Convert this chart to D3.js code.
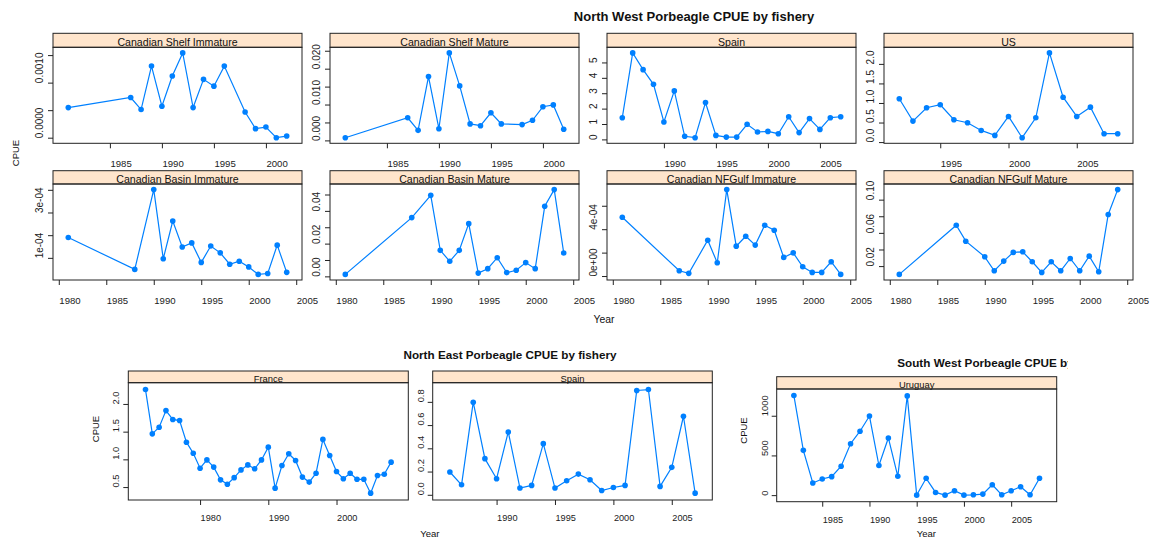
<!DOCTYPE html>
<html><head><meta charset="utf-8">
<script src="https://cdn.jsdelivr.net/npm/d3@7"></script>
<style>html,body{margin:0;padding:0;background:#fff;} svg{display:block;font-family:"Liberation Sans",Arial,Helvetica,sans-serif;}</style>
</head><body><svg id="chart" width="1150" height="538"></svg>
<script>
// ---------------- DATA ----------------
// North West – Canadian Shelf
const shelfYears = [1981,1987,1988,1989,1990,1991,1992,1993,1994,1995,1996,1998,1999,2000,2001,2002];
const shelfImmature = [0.000547,0.00073,0.000511,0.00130,0.000571,0.00112,0.00154,0.000547,0.00106,0.000936,0.00130,0.000467,0.000164,0.000193,0.0,0.00003];
const shelfMature = [0.00075,0.0063,0.0028,0.0178,0.00325,0.0244,0.0152,0.0046,0.0041,0.0077,0.0046,0.0044,0.0056,0.0094,0.0099,0.0031];
// North West – Spain
const nwSpainYears = [1986,1987,1988,1989,1990,1991,1992,1993,1994,1995,1996,1997,1998,1999,2000,2001,2002,2003,2004,2005,2006,2007];
const nwSpainCPUE = [1.41,5.62,4.53,3.58,1.13,3.15,0.20,0.11,2.39,0.26,0.15,0.15,0.98,0.48,0.52,0.37,1.47,0.44,1.35,0.65,1.41,1.47];
// North West – US
const usYears = [1992,1993,1994,1995,1996,1997,1998,1999,2000,2001,2002,2003,2004,2005,2006,2007,2008];
const usCPUE = [1.107,0.536,0.878,0.954,0.571,0.495,0.298,0.171,0.656,0.112,0.622,2.281,1.148,0.656,0.893,0.214,0.214];
// North West – Canadian Basin
const basinYears = [1981,1988,1990,1991,1992,1993,1994,1995,1996,1997,1998,1999,2000,2001,2002,2003,2004];
const basinImmature = [1.90e-4,0.49e-4,4.01e-4,0.96e-4,2.62e-4,1.48e-4,1.66e-4,0.80e-4,1.52e-4,1.22e-4,0.72e-4,0.85e-4,0.60e-4,0.27e-4,0.31e-4,1.56e-4,0.36e-4];
const basinMature = [0.0012,0.0359,0.0495,0.0159,0.0092,0.0159,0.0322,0.0020,0.0047,0.0114,0.0023,0.0037,0.0084,0.0047,0.0428,0.0530,0.0143];
// North West – Canadian NF Gulf
const gulfYears = [1981,1987,1988,1990,1991,1992,1993,1994,1995,1996,1997,1998,1999,2000,2001,2002,2003,2004];
const gulfImmature = [5.02e-4,0.45e-4,0.23e-4,3.06e-4,1.13e-4,7.38e-4,2.55e-4,3.40e-4,2.64e-4,4.34e-4,3.91e-4,1.59e-4,1.98e-4,0.79e-4,0.31e-4,0.31e-4,1.22e-4,0.14e-4];
const gulfMature = [0.0100,0.0692,0.0500,0.0312,0.0144,0.0260,0.0365,0.0372,0.0252,0.0124,0.0252,0.0144,0.0292,0.0144,0.0320,0.0132,0.0821,0.1121];
// North East – France
const franceYears = [1972,1973,1974,1975,1976,1977,1978,1979,1980,1981,1982,1983,1984,1985,1986,1987,1988,1989,1990,1991,1992,1993,1994,1995,1996,1997,1998,1999,2000,2001,2002,2003,2004,2005,2006,2007,2008];
const franceCPUE = [2.26,1.46,1.58,1.88,1.72,1.70,1.31,1.11,0.84,0.99,0.86,0.63,0.55,0.67,0.81,0.90,0.83,0.99,1.22,0.48,0.89,1.10,0.98,0.68,0.59,0.75,1.36,1.07,0.78,0.65,0.75,0.64,0.64,0.39,0.71,0.73,0.95];
// North East – Spain
const neSpainYears = [1986,1987,1988,1989,1990,1991,1992,1993,1994,1995,1996,1997,1998,1999,2000,2001,2002,2003,2004,2005,2006,2007];
const neSpainCPUE = [0.196,0.086,0.797,0.311,0.138,0.541,0.058,0.081,0.440,0.058,0.121,0.178,0.129,0.037,0.063,0.081,0.898,0.906,0.072,0.236,0.676,0.014];
// South West – Uruguay
const uruguayYears = [1982,1983,1984,1985,1986,1987,1988,1989,1990,1991,1992,1993,1994,1995,1996,1997,1998,1999,2000,2001,2002,2003,2004,2005,2006,2007,2008];
const uruguayCPUE = [1254,564,153,203,233,364,648,805,996,373,720,237,1250,0,212,34,0,55,0,4,13,131,4,55,106,4,212];

// Tick values and labels
const xTicks8590 = [1985,1990,1995,2000];
const xTicks9005 = [1990,1995,2000,2005];
const xTicks9505 = [1995,2000,2005];
const xTicks8005 = [1980,1985,1990,1995,2000,2005];
const xTicksDecade = [1980,1990,2000];
const xTicks8505 = [1985,1990,1995,2000,2005];

const yTicksShelfImm = [0,0.0005,0.001,0.0015], yLabShelfImm = ["0.0000","","0.0010",""];
const yTicksShelfMat = [0,0.005,0.01,0.015,0.02,0.025], yLabShelfMat = ["0.000","","0.010","","0.020",""];
const yTicksNWSpain = [0,1,2,3,4,5], yLabNWSpain = ["0","1","2","3","4","5"];
const yTicksUS = [0,0.5,1,1.5,2], yLabUS = ["0.0","0.5","1.0","1.5","2.0"];
const yTicksBasinImm = [1e-4,2e-4,3e-4,4e-4], yLabBasinImm = ["1e-04","","3e-04",""];
const yTicksBasinMat = [0,0.01,0.02,0.03,0.04,0.05], yLabBasinMat = ["0.00","","0.02","","0.04",""];
const yTicksGulfImm = [0,2e-4,4e-4,6e-4], yLabGulfImm = ["0e+00","","4e-04",""];
const yTicksGulfMat = [0.02,0.04,0.06,0.08,0.10], yLabGulfMat = ["0.02","","0.06","","0.10"];
const yTicksFrance = [0.5,1,1.5,2], yLabFrance = ["0.5","1.0","1.5","2.0"];
const yTicksNESpain = [0,0.2,0.4,0.6,0.8], yLabNESpain = ["0.0","0.2","0.4","0.6","0.8"];
const yTicksUruguay = [0,500,1000], yLabUruguay = ["0","500","1000"];

// ---------------- DRAWING ----------------
const svg = d3.select("#chart");
const LINE = "#0080ff", STRIP = "#ffe5cc", INK = "#222";

const defs = svg.append("defs");
defs.append("clipPath").attr("id","swclip").append("rect").attr("x",0).attr("y",0).attr("width",1068).attr("height",538);

function panel(p) {
  const g = svg.append("g");
  const xe = d3.extent(p.years), ye = d3.extent(p.values);
  const xr = xe[1]-xe[0], yr = ye[1]-ye[0];
  const x = d3.scaleLinear().domain([xe[0]-0.07*xr, xe[1]+0.07*xr]).range([p.left, p.right]);
  const y = d3.scaleLinear().domain([ye[0]-0.066*yr, ye[1]+0.066*yr]).range([p.bottom, p.stripBottom]);

  g.append("rect").attr("x",p.left).attr("y",p.stripTop).attr("width",p.right-p.left)
    .attr("height",p.stripBottom-p.stripTop).attr("fill",STRIP).attr("stroke",INK).attr("stroke-width",1);
  g.append("text").attr("x",(p.left+p.right)/2).attr("y",p.stripBottom-1.2).attr("text-anchor","middle")
    .attr("font-size",p.stripFont).attr("fill","#111").text(p.name);
  g.append("rect").attr("x",p.left).attr("y",p.stripBottom).attr("width",p.right-p.left)
    .attr("height",p.bottom-p.stripBottom).attr("fill","none").attr("stroke",INK).attr("stroke-width",1);

  const xa = g.append("g").attr("transform",`translate(0,${p.bottom})`)
    .call(d3.axisBottom(x).tickValues(p.xTicks).tickFormat(d3.format("d")).tickSize(5).tickSizeOuter(0));
  xa.attr("font-family",null).attr("font-size",p.tickFont);
  xa.select(".domain").remove();
  xa.selectAll("line").attr("stroke",INK);
  xa.selectAll("text").attr("y",p.xLabOff).attr("dy",null).attr("text-anchor","start").attr("fill",INK);

  const ya = g.append("g").attr("transform",`translate(${p.left},0)`)
    .call(d3.axisLeft(y).tickValues(p.yTicks).tickFormat(d => p.yLabels[p.yTicks.indexOf(d)]).tickSize(5).tickSizeOuter(0));
  ya.attr("font-family",null).attr("font-size",p.yTickFont);
  ya.select(".domain").remove();
  ya.selectAll("line").attr("stroke",INK);
  ya.selectAll("text").attr("x",0).attr("dy",null).attr("text-anchor","start").attr("fill",INK)
    .attr("transform",`translate(${-p.yLabOff},0) rotate(-90)`);

  const pts = p.years.map((yr,i) => [yr, p.values[i]]);
  g.append("path").datum(pts).attr("fill","none").attr("stroke",LINE).attr("stroke-width",1.2)
    .attr("d", d3.line().x(d => x(d[0])).y(d => y(d[1])));
  g.selectAll("circle.pt").data(pts).join("circle").attr("class","pt")
    .attr("cx",d => x(d[0])).attr("cy",d => y(d[1])).attr("r",2.8).attr("fill",LINE);
}

const topCols = [53, 330, 607, 884], topW = 249;
const topRows = [{stripTop:33.3, stripBottom:47.3, bottom:143.3},{stripTop:170.7, stripBottom:184, bottom:280}];
const topPanels = [
  {name:"Canadian Shelf Immature", years:shelfYears, values:shelfImmature, xTicks:xTicks8590, yTicks:yTicksShelfImm, yLabels:yLabShelfImm},
  {name:"Canadian Shelf Mature", years:shelfYears, values:shelfMature, xTicks:xTicks8590, yTicks:yTicksShelfMat, yLabels:yLabShelfMat},
  {name:"Spain", years:nwSpainYears, values:nwSpainCPUE, xTicks:xTicks9005, yTicks:yTicksNWSpain, yLabels:yLabNWSpain},
  {name:"US", years:usYears, values:usCPUE, xTicks:xTicks9505, yTicks:yTicksUS, yLabels:yLabUS},
  {name:"Canadian Basin Immature", years:basinYears, values:basinImmature, xTicks:xTicks8005, yTicks:yTicksBasinImm, yLabels:yLabBasinImm},
  {name:"Canadian Basin Mature", years:basinYears, values:basinMature, xTicks:xTicks8005, yTicks:yTicksBasinMat, yLabels:yLabBasinMat},
  {name:"Canadian NFGulf Immature", years:gulfYears, values:gulfImmature, xTicks:xTicks8005, yTicks:yTicksGulfImm, yLabels:yLabGulfImm},
  {name:"Canadian NFGulf Mature", years:gulfYears, values:gulfMature, xTicks:xTicks8005, yTicks:yTicksGulfMat, yLabels:yLabGulfMat}
];
topPanels.forEach((p,i) => {
  const r = topRows[Math.floor(i/4)], c = topCols[i%4];
  panel(Object.assign({}, p, r, {left:c, right:c+topW, stripFont:10.6, tickFont:9.6, yTickFont:10, xLabOff:24, yLabOff:10}));
});

const botCommon = {stripFont:9.4, tickFont:9.2, yTickFont:9.4, xLabOff:21, yLabOff:9};
panel(Object.assign({name:"France", years:franceYears, values:franceCPUE, xTicks:xTicksDecade, yTicks:yTicksFrance, yLabels:yLabFrance,
  left:128.3, right:408.3, stripTop:371, stripBottom:382.7, bottom:500}, botCommon));
panel(Object.assign({name:"Spain", years:neSpainYears, values:neSpainCPUE, xTicks:xTicks9005, yTicks:yTicksNESpain, yLabels:yLabNESpain,
  left:432.7, right:712.3, stripTop:371, stripBottom:382.7, bottom:500}, botCommon));
panel(Object.assign({name:"Uruguay", years:uruguayYears, values:uruguayCPUE, xTicks:xTicks8505, yTicks:yTicksUruguay, yLabels:yLabUruguay,
  left:776.7, right:1056.7, stripTop:376.7, stripBottom:389, bottom:501.7}, botCommon));

// Titles and axis labels
svg.append("text").attr("x",694).attr("y",21).attr("text-anchor","middle").attr("font-weight","bold")
  .attr("font-size",13).attr("fill","#111").text("North West Porbeagle CPUE by fishery");
svg.append("text").attr("x",510).attr("y",359).attr("text-anchor","middle").attr("font-weight","bold")
  .attr("font-size",11.7).attr("fill","#111").text("North East Porbeagle CPUE by fishery");
svg.append("text").attr("x",897.3).attr("y",366.5).attr("text-anchor","start").attr("font-weight","bold")
  .attr("font-size",11.7).attr("fill","#111").attr("clip-path","url(#swclip)").text("South West Porbeagle CPUE by fishery");

function vlabel(x, y, size, txt) {
  svg.append("text").attr("transform",`translate(${x},${y}) rotate(-90)`).attr("text-anchor","middle")
    .attr("font-size",size).attr("fill","#111").text(txt);
}
vlabel(18.5, 153, 9.5, "CPUE");
vlabel(99.3, 429, 9.5, "CPUE");
vlabel(746.7, 430.5, 9.5, "CPUE");

svg.append("text").attr("x",593.5).attr("y",323).attr("font-size",10.4).attr("fill","#111").text("Year");
svg.append("text").attr("x",420.3).attr("y",537.2).attr("font-size",9.5).attr("fill","#111").text("Year");
svg.append("text").attr("x",916.7).attr("y",537.2).attr("font-size",9.5).attr("fill","#111").text("Year");
</script></body></html>
